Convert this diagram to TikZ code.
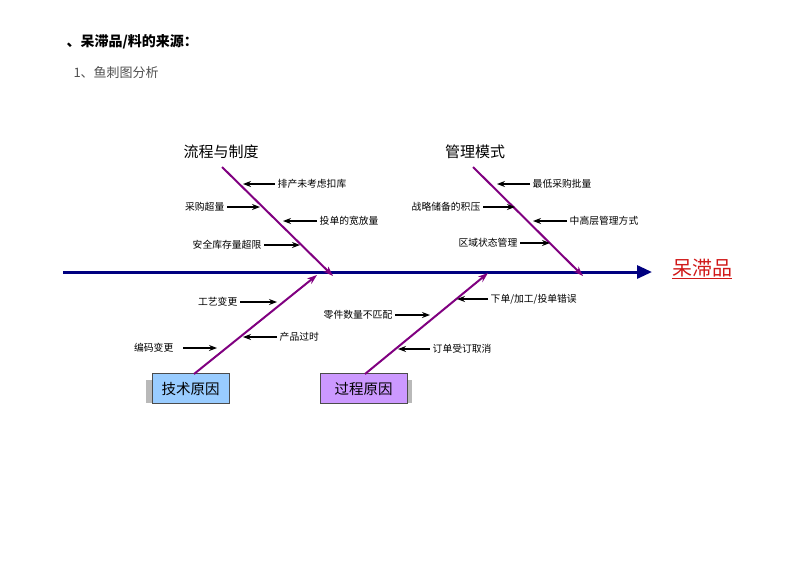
\documentclass[tikz,border=0pt]{standalone}
\usepackage{fontspec}
\setmainfont{Noto Sans CJK SC}
\usetikzlibrary{arrows.meta}
\definecolor{spineNavy}{HTML}{000080}
\definecolor{boneViolet}{HTML}{800080}
\definecolor{effectRed}{HTML}{D01818}
\definecolor{boxBlue}{HTML}{99CCFF}
\definecolor{boxLilac}{HTML}{CC99FF}
\definecolor{textGray}{HTML}{505050}

\begin{document}
\begin{tikzpicture}[x=1pt, y=-1pt,
    cat/.style={font=\fontsize{15}{18}\selectfont, inner sep=0pt},
    causa/.style={font=\fontsize{9.8}{11}\selectfont, inner sep=2.5pt},
    caja/.style={draw=black!70, line width=0.8pt, minimum height=30pt,
                 font=\fontsize{14.5}{17}\selectfont},
    hueso/.style={-{Stealth[length=10pt, width=7pt]}, line width=2pt, color=boneViolet},
    espina/.style={-{Triangle[length=15pt, width=13pt]}, line width=3pt, color=spineNavy},
    fl/.style={-{Stealth[length=8pt, width=6pt]}, line width=1.2pt}]
    \useasboundingbox (0,0) rectangle (800,566);
    \node[anchor=west, font=\fontsize{14}{16}\selectfont\bfseries] (titulo) at (63,42) {、呆滞品/料的来源：};
    \node[anchor=west, font=\fontsize{13}{15}\selectfont, text=textGray] (sub) at (70,73) {1、鱼刺图分析};
    % espina principal
    \coordinate (s0) at (63,272);
    \coordinate (s1) at (652,272);
    \node[font=\fontsize{20}{24}\selectfont, text=effectRed, inner sep=0pt] (efecto) at (702,269) {\underline{呆滞品}};
    \draw[espina] (s0) -- (s1);
    % huesos
    \node[cat] (flujo) at (221,152) {流程与制度};
    \node[cat] (gestion) at (475,152) {管理模式};
    \fill[gray!55] (146,380) rectangle (152,403);
    \fill[gray!55] (407,380) rectangle (412,403);
    \node[caja, fill=boxBlue, minimum width=77pt] (tecnica) at (190.5,388.5) {技术原因};
    \node[caja, fill=boxLilac, minimum width=87pt] (proceso) at (363.5,388.5) {过程原因};
    \coordinate (h1a) at (222,167); \coordinate (h1b) at (333,276);
    \coordinate (h2a) at (473,167); \coordinate (h2b) at (583,276);
    \coordinate (h3a) at (194,374); \coordinate (h3b) at (317,275);
    \coordinate (h4a) at (365,374); \coordinate (h4b) at (488,273);
    \draw[hueso] (h1a) -- (h1b); \draw[hueso] (h2a) -- (h2b);
    \draw[hueso] (h3a) -- (h3b); \draw[hueso] (h4a) -- (h4b);
    % causas
    \node[causa, anchor=west] (c1) at (275,184) {排产未考虑扣库};
    \node[causa, anchor=east] (c2) at (227,207) {采购超量};
    \node[causa, anchor=west] (c3) at (317,221) {投单的宽放量};
    \node[causa, anchor=east] (c4) at (264,245) {安全库存量超限};
    \node[causa, anchor=west] (c5) at (530,184) {最低采购批量};
    \node[causa, anchor=east] (c6) at (483,207) {战略储备的积压};
    \node[causa, anchor=west] (c7) at (567,221) {中高层管理方式};
    \node[causa, anchor=east] (c8) at (520,243) {区域状态管理};
    \node[causa, anchor=east] (c9) at (240,302) {工艺变更};
    \node[causa, anchor=west] (c10) at (277,337) {产品过时};
    \node[causa, anchor=east] (c11) at (176,348) {编码变更};
    \node[causa, anchor=west] (c12) at (488,299) {下单/加工/投单错误};
    \node[causa, anchor=east] (c13) at (395,315) {零件数量不匹配};
    \node[causa, anchor=west] (c14) at (430,349) {订单受订取消};
    \coordinate (p1) at (243,184); \coordinate (p2) at (260,207);
    \coordinate (p3) at (283,221); \coordinate (p4) at (300,245);
    \coordinate (p5) at (497,184); \coordinate (p6) at (515,207);
    \coordinate (p7) at (533,221); \coordinate (p8) at (550,243);
    \coordinate (p9) at (277,302); \coordinate (p10) at (243,337);
    \coordinate (p11) at (217,348); \coordinate (p12) at (457,299);
    \coordinate (p13) at (430,315); \coordinate (p14) at (398,349);
    \draw[fl] (c1.west) -- (p1); \draw[fl] (c2.east) -- (p2);
    \draw[fl] (c3.west) -- (p3); \draw[fl] (c4.east) -- (p4);
    \draw[fl] (c5.west) -- (p5); \draw[fl] (c6.east) -- (p6);
    \draw[fl] (c7.west) -- (p7); \draw[fl] (c8.east) -- (p8);
    \draw[fl] (c9.east) -- (p9); \draw[fl] (c10.west) -- (p10);
    \draw[fl, shorten <=7pt] (c11.east) -- (p11); \draw[fl] (c12.west) -- (p12);
    \draw[fl] (c13.east) -- (p13); \draw[fl] (c14.west) -- (p14);
\end{tikzpicture}
\end{document}
